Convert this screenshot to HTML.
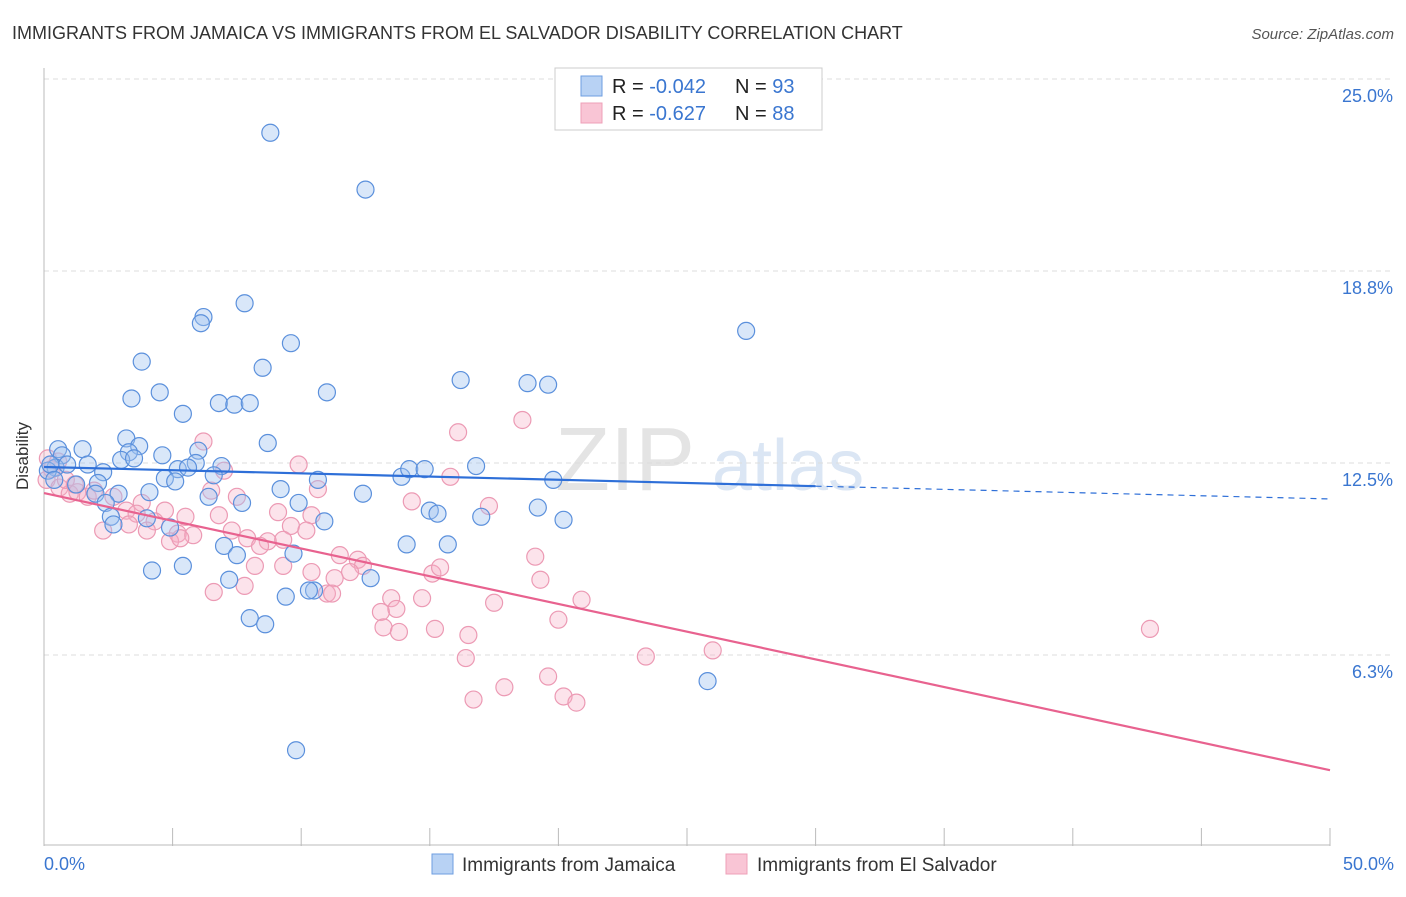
<!DOCTYPE html>
<html><head><meta charset="utf-8"><style>
body{margin:0;background:#fff;font-family:"Liberation Sans",sans-serif;}
svg text{font-family:"Liberation Sans",sans-serif;}
</style></head><body>
<svg id="c" width="1406" height="892" xmlns="http://www.w3.org/2000/svg">
<text x="12" y="39" font-size="18" fill="#333">IMMIGRANTS FROM JAMAICA VS IMMIGRANTS FROM EL SALVADOR DISABILITY CORRELATION CHART</text>
<text x="1394" y="39" font-size="15" fill="#555" font-style="italic" text-anchor="end">Source: ZipAtlas.com</text>
<g><text x="555" y="490" font-size="90" fill="#e4e4e4" font-family="Liberation Serif,serif">ZIP</text><text x="712" y="490" font-size="72" fill="#dbe6f4">atlas</text></g>
<g id="grid"></g><g id="axes"></g><g id="pts"></g><g id="lines"></g>
<text x="28" y="456" font-size="17" fill="#333" transform="rotate(-90 28 456)" text-anchor="middle">Disability</text>
<g>
<rect x="555" y="68" width="267" height="62" fill="#fff" stroke="#ccc"/>
<rect x="581" y="76" width="21" height="20" fill="#b8d2f4" stroke="#6e9ee0"/>
<rect x="581" y="103" width="21" height="20" fill="#f9c5d5" stroke="#eea0b8"/>
<text x="612" y="93" font-size="20" fill="#222">R = <tspan fill="#3a76d0">-0.042</tspan><tspan x="735">N = </tspan><tspan fill="#3a76d0">93</tspan></text>
<text x="612" y="120" font-size="20" fill="#222">R =  <tspan fill="#3a76d0">-0.627</tspan><tspan x="735">N = </tspan><tspan fill="#3a76d0">88</tspan></text>
</g>
<g>
<rect x="432" y="854" width="21" height="20" fill="#b8d2f4" stroke="#6e9ee0"/>
<text x="462" y="871" font-size="19" fill="#333">Immigrants from Jamaica</text>
<rect x="726" y="854" width="21" height="20" fill="#f9c5d5" stroke="#eea0b8"/>
<text x="757" y="871" font-size="19" fill="#333">Immigrants from El Salvador</text>
</g>
</svg>
<script>
const yTicks=[25.0,18.8,12.5,6.3];
const yTickVals=[25,18.75,12.5,6.25];
const xLabels=["0.0%","50.0%"];
const jamX=[8.8,12.5,7.8,6.2,6.1,9.6,8.5,3.8,27.3,16.2,18.8,19.6,3.4,4.5,11.0,6.8,7.4,8.0,5.4,8.7,3.2,3.7,0.55,1.5,0.7,3.3,3.0,3.5,4.6,6.0,5.9,5.2,5.6,6.9,0.45,0.9,1.7,2.3,6.6,4.7,5.1,0.15,1.25,2.1,10.65,13.9,14.2,14.8,16.8,19.8,4.1,2.9,2.0,9.2,6.4,12.4,2.4,7.7,9.9,2.6,4.0,4.9,2.7,15.0,15.3,17.0,19.2,20.2,10.9,7.0,7.5,9.7,14.1,15.7,4.2,5.4,7.2,10.5,12.7,9.4,10.3,8.0,8.6,25.8,9.8,0.25,0.4];
const jamY=[23.25,21.4,17.7,17.25,17.05,16.4,15.6,15.8,16.8,15.2,15.1,15.05,14.6,14.8,14.8,14.45,14.4,14.45,14.1,13.15,13.3,13.05,12.95,12.95,12.75,12.85,12.6,12.65,12.75,12.9,12.5,12.3,12.35,12.4,12.35,12.45,12.45,12.2,12.1,12.0,11.9,12.25,11.8,11.85,11.95,12.05,12.3,12.3,12.4,11.95,11.55,11.5,11.5,11.65,11.4,11.5,11.2,11.2,11.2,10.75,10.7,10.4,10.5,10.95,10.85,10.75,11.05,10.65,10.6,9.8,9.5,9.55,9.85,9.85,9.0,9.15,8.7,8.35,8.75,8.15,8.35,7.45,7.25,5.4,3.15,12.45,11.95];
const salX=[18.6,16.1,6.2,9.9,15.8,7.0,10.65,6.5,17.3,14.3,7.5,3.8,9.1,10.4,6.8,5.5,4.7,3.2,3.6,4.3,2.3,3.3,4.0,5.2,5.8,7.3,9.6,10.2,7.9,8.7,8.4,9.3,4.9,5.3,19.1,11.5,12.2,12.4,11.9,10.4,11.3,9.3,8.2,15.1,15.4,19.3,7.8,6.6,11.0,11.2,13.5,14.7,20.9,17.5,13.1,13.7,20.0,13.2,13.8,15.2,16.5,43.0,23.4,26.0,16.4,19.6,17.9,20.2,20.7,16.7,0.15,0.3,0.1,0.6,1.0,1.3,1.7,1.95,0.85,2.7,0.55,1.2];
const salY=[13.9,13.5,13.2,12.45,12.05,12.25,11.65,11.6,11.1,11.25,11.4,11.2,10.9,10.8,10.8,10.75,10.95,10.95,10.85,10.6,10.3,10.5,10.3,10.2,10.15,10.3,10.45,10.3,10.05,9.95,9.8,10.0,9.95,10.05,9.45,9.5,9.35,9.15,8.95,8.95,8.75,9.15,9.15,8.9,9.1,8.7,8.5,8.3,8.25,8.25,8.1,8.1,8.05,7.95,7.65,7.75,7.4,7.15,7.0,7.1,6.9,7.1,6.2,6.4,6.15,5.55,5.2,4.9,4.7,4.8,12.65,12.3,11.95,11.7,11.5,11.55,11.4,11.6,11.95,11.4,12.55,11.8];
const jamTrend=[12.37,11.33];
const salTrend=[11.52,2.5];
const jamSolidEnd=30;

const NS="http://www.w3.org/2000/svg";
const X=v=>44+v*25.72;
const Y=v=>847-v*30.72;
function mk(tag,attrs,parent){const e=document.createElementNS(NS,tag);for(const k in attrs)e.setAttribute(k,attrs[k]);parent.appendChild(e);return e;}
const grid=document.getElementById('grid'),axes=document.getElementById('axes'),pts=document.getElementById('pts'),lines=document.getElementById('lines');
yTickVals.forEach((v,i)=>{
  const g=mk('line',{x1:44,x2:1394,y1:Y(v),y2:Y(v),stroke:'#ddd','stroke-dasharray':'5,4'},grid);
  
  
  const t=mk('text',{x:1393,y:Y(v)+23,'font-size':18,fill:'#3a76d0','text-anchor':'end'},grid);
  t.textContent=yTicks[i].toFixed(1)+'%';
  
  
});
const ax=mk('line',{x1:44,x2:44,y1:68,y2:846,stroke:'#bbb'},axes);


const bx=mk('line',{x1:44,x2:1330,y1:845,y2:845,stroke:'#bbb'},axes);


for(let v=0;v<=50;v+=5){
  const t=mk('line',{x1:X(v),x2:X(v),y1:828,y2:846,stroke:'#bbb'},axes);
  
  
}
[[0,'start',44],[50,'end',1394]].forEach((a,i)=>{
  const t=mk('text',{x:a[2],y:870,'font-size':18,fill:'#3a76d0','text-anchor':a[1]},axes);
  t.textContent=xLabels[i];
  
  
});
salX.forEach((v,i)=>{
  const c=mk('circle',{cx:X(v),cy:Y(salY[i]),r:8.5,fill:'rgba(245,175,198,0.35)',stroke:'#ec9ab4','stroke-width':1.2},pts);
  
  
});
jamX.forEach((v,i)=>{
  const c=mk('circle',{cx:X(v),cy:Y(jamY[i]),r:8.5,fill:'rgba(160,196,240,0.4)',stroke:'#5b90dc','stroke-width':1.2},pts);
  
  
});
const jy=x=>jamTrend[0]+(jamTrend[1]-jamTrend[0])*x/50;
const l1=mk('line',{x1:X(0),y1:Y(jy(0)),x2:X(jamSolidEnd),y2:Y(jy(jamSolidEnd)),stroke:'#2e6fd8','stroke-width':2.2},lines);


const l2=mk('line',{x1:X(jamSolidEnd),y1:Y(jy(jamSolidEnd)),x2:X(50),y2:Y(jy(50)),stroke:'#2e6fd8','stroke-width':1.2,'stroke-dasharray':'6,5'},lines);


const l3=mk('line',{x1:X(0),y1:Y(salTrend[0]),x2:X(50),y2:Y(salTrend[1]),stroke:'#e8628f','stroke-width':2.2},lines);


</script>
</body></html>
